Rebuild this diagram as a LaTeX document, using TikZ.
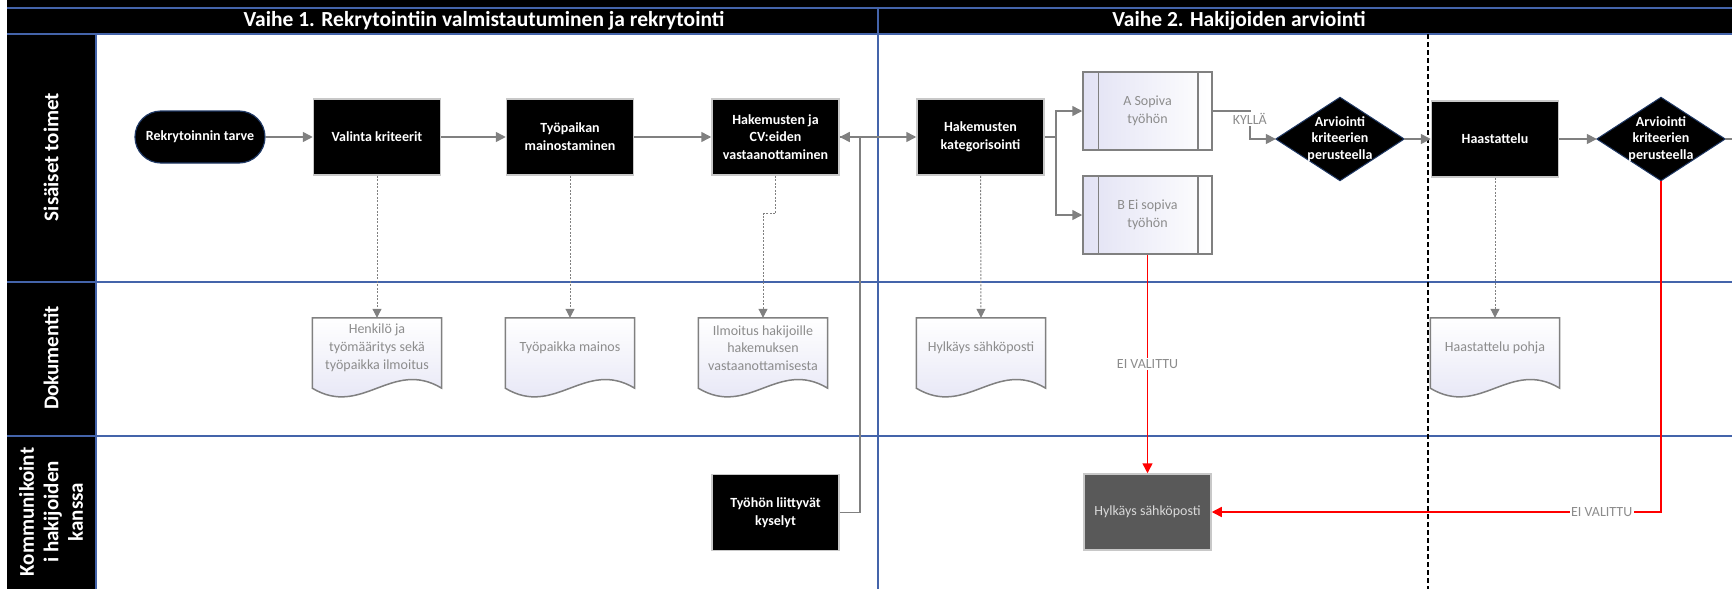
\documentclass[tikz,border=0pt]{standalone}
\usepackage{fontspec}
\setmainfont{Carlito}
\usetikzlibrary{arrows.meta,calc}
\definecolor{laneblue}{RGB}{68,100,170}
\definecolor{conngray}{RGB}{128,128,128}
\definecolor{boxborder}{RGB}{200,200,200}
\definecolor{lav}{RGB}{226,226,244}
\definecolor{doctext}{RGB}{140,140,140}
\definecolor{docborder}{RGB}{128,128,128}
\definecolor{hylfill}{RGB}{89,89,89}
\definecolor{hyltext}{RGB}{217,217,217}
\definecolor{navy}{RGB}{31,56,100}
\definecolor{redline}{RGB}{255,0,0}
\pgfdeclarelayer{bg}
\pgfdeclarelayer{shapes}
\pgfsetlayers{bg,shapes,main}
\tikzset{
  every node/.style={font=\fontsize{14}{17.8}\selectfont, inner sep=0pt},
  procbox/.style={rectangle, fill=black, draw=boxborder, line width=1.5pt, text=white,
    font=\fontsize{14}{17.8}\selectfont\bfseries, align=center, minimum width=127pt, minimum height=76pt},
  startbox/.style={rectangle, rounded corners=26pt, fill=black, draw=navy, line width=1.2pt, text=white,
    font=\fontsize{14}{17.8}\selectfont\bfseries, minimum width=130pt, minimum height=52pt},
  subproc/.style={rectangle, draw=docborder, line width=1.5pt, left color=lav, right color=white,
    text=doctext, align=center, minimum width=129pt, minimum height=78pt},
  docnode/.style={rectangle, text=doctext, align=center, minimum width=129pt, minimum height=60pt},
  docshape/.style={draw=docborder, line width=1.5pt, top color=white, bottom color=lav},
  decnode/.style={rectangle, text=white, font=\fontsize{14}{16.5}\selectfont\bfseries, align=center,
    minimum width=128pt, minimum height=83pt},
  decshape/.style={fill=black, draw=navy, line width=1pt},
  conn/.style={draw=conngray, line width=1.5pt, -{Triangle[length=10pt,width=10pt]}},
  plainconn/.style={draw=conngray, line width=1.5pt},
  dotconn/.style={draw=conngray, line width=1pt, dash pattern=on 2pt off 1.5pt, -{Triangle[length=9pt,width=9pt]}},
  redconn/.style={draw=redline, line width=1.5pt, -{Triangle[length=10pt,width=10pt]}},
  lbl/.style={fill=white, text=doctext, inner sep=1.5pt},
  headtxt/.style={text=white, font=\fontsize{21.5}{24}\selectfont\bfseries},
  lanetxt/.style={text=white, rotate=90, align=center, font=\fontsize{21}{24.5}\selectfont\bfseries},
  laneline/.style={draw=laneblue, line width=1.5pt}
}
\begin{document}
\begin{tikzpicture}[x=1pt,y=-1pt]
\useasboundingbox (0,0) rectangle (1732,589);
\begin{pgfonlayer}{bg}
  \fill[black] (7,0) rectangle (1732,34);
  \fill[black] (7,34) rectangle (96,589);
  \draw[laneline] (7,8) -- (1732,8);
  \draw[laneline] (7,34) -- (1732,34);
  \draw[laneline] (7,282) -- (1732,282);
  \draw[laneline] (7,436) -- (1732,436);
  \draw[laneline] (96,34) -- (96,589);
  \draw[laneline] (878,8) -- (878,589);
  \draw[black, line width=1.5pt, dash pattern=on 5pt off 3pt] (1428,34) -- (1428,589);
\end{pgfonlayer}

% headers and lanes
\node[headtxt] (h1) at (484,21) {Vaihe 1. Rekrytointiin valmistautuminen ja rekrytointi};
\node[headtxt] (h2) at (1239,21) {Vaihe 2. Hakijoiden arviointi};
\node[lanetxt] (l1) at (51,157) {Sisäiset toimet};
\node[lanetxt] (l2) at (51,358) {Dokumentit};
\node[lanetxt] (l3) at (51,512) {Kommunikoint\\i hakijoiden\\kanssa};

% process nodes
\node[startbox] (rek) at (200,137) {Rekrytoinnin tarve};
\node[procbox] (val) at (377,137) {Valinta kriteerit};
\node[procbox] (tyo) at (570,137) {Työpaikan\\mainostaminen};
\node[procbox] (vas) at (775.5,137) {Hakemusten ja\\CV:eiden\\vastaanottaminen};
\node[procbox] (kat) at (980.5,137) {Hakemusten\\kategorisointi};
\node[subproc] (sa) at (1147.5,111) {A Sopiva\\työhön};
\node[subproc] (sb) at (1147.5,215) {B Ei sopiva\\työhön};
\node[decnode] (d1) at (1340,139) {Arviointi\\kriteerien\\perusteella};
\node[procbox] (haas) at (1495,139) {Haastattelu};
\node[decnode] (d2) at (1661,139) {Arviointi\\kriteerien\\perusteella};

% documents
\node[docnode] (doc1) at (377,348) {Henkilö ja\\työmääritys sekä\\työpaikka ilmoitus};
\node[docnode] (doc2) at (570,348) {Työpaikka mainos};
\node[docnode] (doc3) at (763,348) {Ilmoitus hakijoille\\hakemuksen\\vastaanottamisesta};
\node[docnode] (doc4) at (981,348) {Hylkäys sähköposti};
\node[docnode] (doc5) at (1495,348) {Haastattelu pohja};

% communication lane
\node[procbox] (kys) at (775.5,512.5) {Työhön liittyvät\\kyselyt};
\node[procbox, fill=hylfill, text=hyltext, font=\fontsize{14}{17.8}\selectfont] (hyl) at (1147.5,512) {Hylkäys sähköposti};

\begin{pgfonlayer}{shapes}
  \foreach \d in {d1,d2}
    \path[decshape] (\d.west) -- (\d.north) -- (\d.east) -- (\d.south) -- cycle;
  \foreach \d in {doc1,doc2,doc3,doc4,doc5}
    \path[docshape] (\d.north west) -- (\d.north east) -- ($(\d.south east)+(0,10)$)
      .. controls ($(\d.south)+(15,-20)$) and ($(\d.south)+(-15,40)$) .. ($(\d.south west)+(0,10)$) -- cycle;
\end{pgfonlayer}
\foreach \s in {sa,sb} {
  \draw[docborder, line width=1.5pt] ($(\s.north west)+(16,0)$) -- ($(\s.south west)+(16,0)$);
  \draw[docborder, line width=1.5pt] ($(\s.north east)+(-15,0)$) -- ($(\s.south east)+(-15,0)$);
}

% connectors
\draw[conn] (rek) -- (val);
\draw[conn] (val) -- (tyo);
\draw[conn] (tyo) -- (vas);
\draw[conn] (vas) -- (kat);
\draw[conn] (kys.east) -- ++(20,0) |- (vas.east);
\draw[conn] (kat.east) -- ++(11,0) |- (sa.west);
\draw[conn] (kat.east) -- ++(11,0) |- (sb.west);
\draw[conn] (sa.east) -| ($(d1.west)+(-26,0)$) node[lbl, pos=0.64] {KYLLÄ} -- (d1.west);
\draw[conn] (d1) -- (haas);
\draw[conn] (haas) -- (d2);
\coordinate (edgeR) at (1732,139);
\draw[plainconn] (d2.east) -- (edgeR);

\draw[dotconn] (val.south) -- (doc1.north);
\draw[dotconn] (tyo.south) -- (doc2.north);
\draw[dotconn] (vas.south) |- ($(doc3.north)+(0,-104)$) -- (doc3.north);
\draw[dotconn] (kat.south) -- (doc4.north);
\draw[dotconn] (haas.south) -- (doc5.north);

\draw[redconn] (sb.south) -- node[lbl] {EI VALITTU} (hyl.north);
\draw[redconn] (d2.south) |- node[lbl, pos=0.566] {EI VALITTU} (hyl.east);
\end{tikzpicture}
\end{document}
